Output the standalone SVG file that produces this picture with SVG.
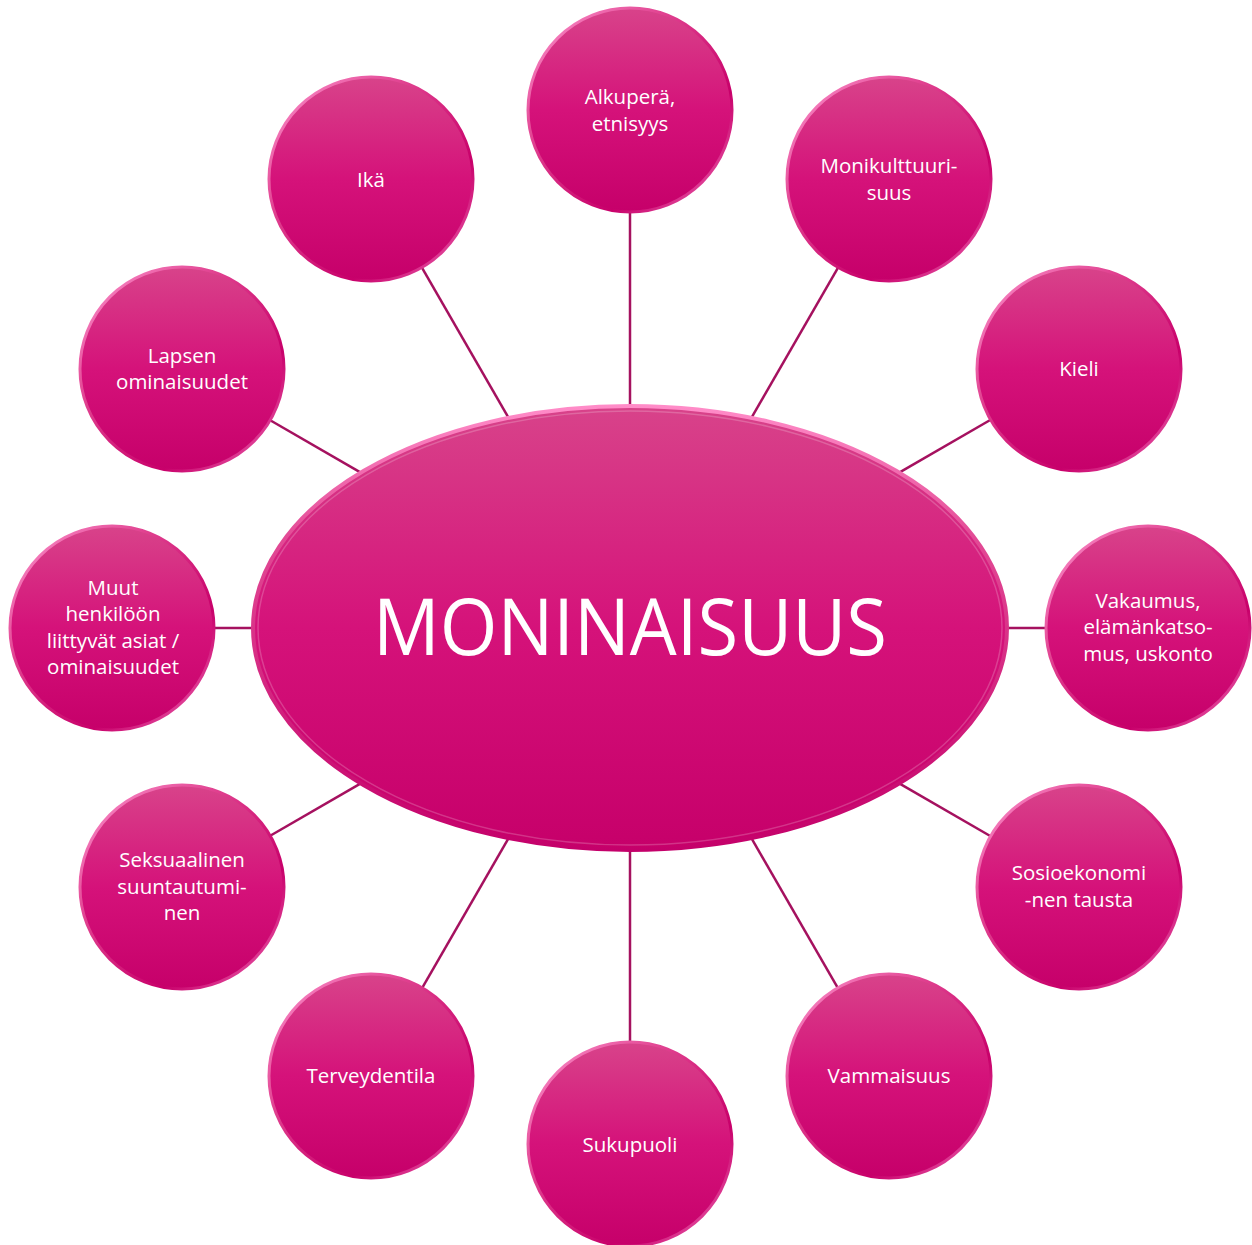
<svg xmlns="http://www.w3.org/2000/svg" width="1252" height="1245" viewBox="0 0 1252 1245">
<defs>
<linearGradient id="fill" x1="0" y1="0" x2="0" y2="1">
<stop offset="0" stop-color="#D8438A"/>
<stop offset="0.5" stop-color="#D5127A"/>
<stop offset="1" stop-color="#C6006A"/>
</linearGradient>
<linearGradient id="rim" x1="0" y1="0" x2="1" y2="1">
<stop offset="0" stop-color="#FF9AD2"/>
<stop offset="0.35" stop-color="#E0408F"/>
<stop offset="0.7" stop-color="#C8006A"/>
<stop offset="1" stop-color="#F070B8"/>
</linearGradient>
<linearGradient id="rimE" x1="0" y1="0" x2="0" y2="1">
<stop offset="0" stop-color="#FF8CC8"/>
<stop offset="0.3" stop-color="#E24A95"/>
<stop offset="1" stop-color="#C4006A"/>
</linearGradient>
</defs>
<style>
.c{fill:url(#fill);stroke:url(#rim);stroke-width:3}
.h{fill:none;stroke:#FFFFFF;stroke-opacity:0.2;stroke-width:1.5}
.t{font-family:"Open Sans","Noto Sans",sans-serif;font-size:20.5px;fill:#FFFFFF;text-anchor:middle}
.l{stroke:#A5115F;stroke-width:2.5;fill:none}
</style>
<g id="connectors">
<line class="l" x1="630" y1="406" x2="630" y2="211"/>
<line class="l" x1="751.4" y1="417.8" x2="838.5" y2="266.9"/>
<line class="l" x1="899.2" y1="472.6" x2="991.1" y2="419.5"/>
<line class="l" x1="1007" y1="628" x2="1047" y2="628"/>
<line class="l" x1="899.2" y1="783.4" x2="991.1" y2="836.5"/>
<line class="l" x1="751.4" y1="838.2" x2="838.5" y2="989.1"/>
<line class="l" x1="630" y1="850" x2="630" y2="1043"/>
<line class="l" x1="508.6" y1="838.2" x2="421.5" y2="989.1"/>
<line class="l" x1="360.8" y1="783.4" x2="268.9" y2="836.5"/>
<line class="l" x1="253" y1="628" x2="213" y2="628"/>
<line class="l" x1="360.8" y1="472.6" x2="268.9" y2="419.5"/>
<line class="l" x1="508.6" y1="417.8" x2="421.5" y2="266.9"/>
</g>
<g id="center">
<ellipse cx="630" cy="628" rx="377" ry="222" fill="url(#fill)" stroke="url(#rimE)" stroke-width="4"/>
<ellipse cx="630" cy="628" rx="372" ry="217" class="h"/>
<text x="630" y="655" font-family="Open Sans, Noto Sans, sans-serif" font-size="78" fill="#FFFFFF" text-anchor="middle" textLength="514" lengthAdjust="spacingAndGlyphs">MONINAISUUS</text>
</g>
<g id="n-alkupera">
<circle class="c" cx="630" cy="110" r="102"/>
<text class="t"><tspan x="630" y="104">Alkuperä,</tspan><tspan x="630" y="131">etnisyys</tspan></text>
</g>
<g id="n-monikulttuurisuus">
<circle class="c" cx="889" cy="179" r="102"/>
<text class="t"><tspan x="889" y="173">Monikulttuuri-</tspan><tspan x="889" y="200">suus</tspan></text>
</g>
<g id="n-kieli">
<circle class="c" cx="1079" cy="369" r="102"/>
<text class="t" x="1079" y="376">Kieli</text>
</g>
<g id="n-vakaumus">
<circle class="c" cx="1148" cy="628" r="102"/>
<text class="t"><tspan x="1148" y="608">Vakaumus,</tspan><tspan x="1148" y="634">elämänkatso-</tspan><tspan x="1148" y="661">mus, uskonto</tspan></text>
</g>
<g id="n-sosioekonominen">
<circle class="c" cx="1079" cy="887" r="102"/>
<text class="t"><tspan x="1079" y="880">Sosioekonomi</tspan><tspan x="1079" y="907">-nen tausta</tspan></text>
</g>
<g id="n-vammaisuus">
<circle class="c" cx="889" cy="1076" r="102"/>
<text class="t" x="889" y="1083">Vammaisuus</text>
</g>
<g id="n-sukupuoli">
<circle class="c" cx="630" cy="1144" r="102"/>
<text class="t" x="630" y="1152">Sukupuoli</text>
</g>
<g id="n-terveydentila">
<circle class="c" cx="371" cy="1076" r="102"/>
<text class="t" x="371" y="1083">Terveydentila</text>
</g>
<g id="n-seksuaalinen">
<circle class="c" cx="182" cy="887" r="102"/>
<text class="t"><tspan x="182" y="867">Seksuaalinen</tspan><tspan x="182" y="894">suuntautumi-</tspan><tspan x="182" y="920">nen</tspan></text>
</g>
<g id="n-muut">
<circle class="c" cx="112" cy="628" r="102"/>
<text class="t"><tspan x="113" y="595">Muut</tspan><tspan x="113" y="621">henkilöön</tspan><tspan x="113" y="648">liittyvät asiat /</tspan><tspan x="113" y="674">ominaisuudet</tspan></text>
</g>
<g id="n-lapsen">
<circle class="c" cx="182" cy="369" r="102"/>
<text class="t"><tspan x="182" y="363">Lapsen</tspan><tspan x="182" y="389">ominaisuudet</tspan></text>
</g>
<g id="n-ika">
<circle class="c" cx="371" cy="179" r="102"/>
<text class="t" x="371" y="187">Ikä</text>
</g>
</svg>
